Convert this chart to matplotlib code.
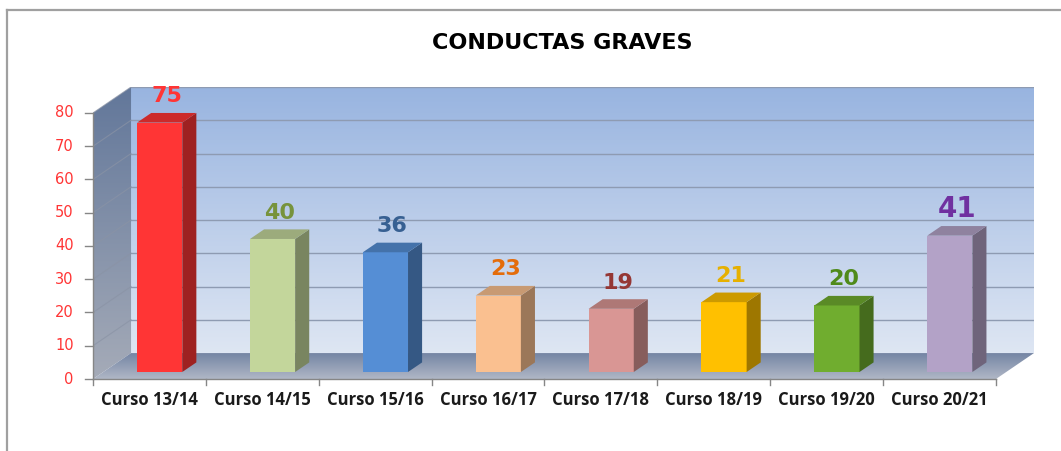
import numpy as np
import matplotlib.pyplot as plt
from matplotlib.patches import Polygon
from matplotlib.colors import LinearSegmentedColormap, to_rgb

# data
cursos = ["Curso 13/14", "Curso 14/15", "Curso 15/16", "Curso 16/17",
          "Curso 17/18", "Curso 18/19", "Curso 19/20", "Curso 20/21"]
valores = [75, 40, 36, 23, 19, 21, 20, 41]
colores_barra = ["#FF3535", "#C3D69B", "#558ED5", "#FAC090",
                 "#D99694", "#FFC000", "#70AD2F", "#B3A2C7"]
colores_texto = ["#FF3535", "#77933C", "#376092", "#E46C0A",
                 "#953735", "#E6B000", "#4F8A1A", "#7030A0"]
yticks = [0, 10, 20, 30, 40, 50, 60, 70, 80]

n = len(cursos)
ymax = 80
DX, DY = 0.337, 7.8       # depth offset of the 3D box (data units)
d0, bd = 0.27, 0.37       # bar position / thickness along depth
bw = 0.4                  # bar width


def shade(c, f):
    r, g, b = to_rgb(c)
    return (r * f, g * f, b * f)


def gradient(ax, extent, c_top, c_bot, clip=None, z=0):
    cmap = LinearSegmentedColormap.from_list("g", [c_bot, c_top])
    grad = np.linspace(0, 1, 256).reshape(-1, 1)
    im = ax.imshow(grad, extent=extent, origin="lower", cmap=cmap,
                   aspect="auto", zorder=z, interpolation="bilinear")
    if clip is not None:
        im.set_clip_path(clip)
    return im


fig = plt.figure(figsize=(10.61, 4.51), dpi=100)
ax = fig.add_axes([93 / 1061, 72 / 451, 941 / 1061, 292 / 451])
ax.set_xlim(0, n + DX)
ax.set_ylim(0, ymax + DY)
ax.axis("off")

# back wall
gradient(ax, [DX, n + DX, DY, ymax + DY], "#98B4E0", "#DEE6F3", z=0)
# left wall
lw_poly = Polygon([(0, 0), (0, ymax), (DX, ymax + DY), (DX, DY)],
                  closed=True, fc="none", ec="none", transform=ax.transData)
ax.add_patch(lw_poly)
gradient(ax, [0, DX, 0, ymax + DY], "#62779A", "#A5ABB8", clip=lw_poly, z=0)
# floor
fl_poly = Polygon([(0, 0), (n, 0), (n + DX, DY), (DX, DY)],
                  closed=True, fc="none", ec="none", transform=ax.transData)
ax.add_patch(fl_poly)
gradient(ax, [0, n + DX, 0, DY], "#7485A4", "#B0B7C6", clip=fl_poly, z=0)

# gridlines
for v in yticks[1:]:
    ax.plot([DX, n + DX], [v + DY, v + DY], color="#8E9BB2", lw=1, zorder=1)
    ax.plot([0, DX], [v, v + DY], color="#8A93A5", lw=0.8, alpha=0.7, zorder=1)

# axes lines and ticks
ax.plot([0, 0], [0, ymax], color="#868686", lw=1, zorder=2, clip_on=False)
ax.plot([0, n], [0, 0], color="#868686", lw=1, zorder=2, clip_on=False)
for v in yticks:
    ax.plot([-0.07, 0], [v, v], color="#868686", lw=1, clip_on=False)
    ax.text(-0.17, v, str(v), color="#FF3535", fontsize=10.5, ha="right",
            va="center", family="DejaVu Sans")
for i in range(n + 1):
    ax.plot([i, i], [0, -1.7], color="#868686", lw=1, clip_on=False)
for i, lab in enumerate(cursos):
    ax.text(i + 0.5, -3.6, lab, fontsize=12, fontweight="bold",
            ha="center", va="top", color="#1A1A1A", family="Open Sans")

# bars
for i, (v, c, tc) in enumerate(zip(valores, colores_barra, colores_texto)):
    x0 = i + 0.5 - bw / 2 + d0 * DX
    y0 = d0 * DY
    ox, oy = bd * DX, bd * DY
    front = Polygon([(x0, y0), (x0 + bw, y0), (x0 + bw, y0 + v), (x0, y0 + v)],
                    fc=c, ec="none", zorder=5)
    side = Polygon([(x0 + bw, y0), (x0 + bw + ox, y0 + oy),
                    (x0 + bw + ox, y0 + v + oy), (x0 + bw, y0 + v)],
                   fc=shade(c, 0.62), ec="none", zorder=5)
    top = Polygon([(x0, y0 + v), (x0 + bw, y0 + v), (x0 + bw + ox, y0 + v + oy),
                   (x0 + ox, y0 + v + oy)],
                  fc=shade(c, 0.8), ec="none", zorder=5)
    for p in (front, side, top):
        ax.add_patch(p)
    fs = 20 if i == n - 1 else 16
    ax.text(x0 + bw / 2 + ox / 2, y0 + v + oy + 5.0, str(v), color=tc,
            fontsize=fs, fontweight="bold", ha="center", va="center",
            family="DejaVu Sans", zorder=6)

# title and frame
fig.text(562 / 1061, 1 - 43 / 451, "CONDUCTAS GRAVES", fontsize=16,
         fontweight="bold", ha="center", va="center", family="DejaVu Sans")
fig.add_artist(plt.Line2D([7 / 1061, 7 / 1061], [0, 1 - 10 / 451],
                          transform=fig.transFigure, color="#A0A0A0", lw=1.6))
fig.add_artist(plt.Line2D([7 / 1061, 1], [1 - 10 / 451, 1 - 10 / 451],
                          transform=fig.transFigure, color="#A0A0A0", lw=1.6))

fig.savefig("out.png", dpi=100)
